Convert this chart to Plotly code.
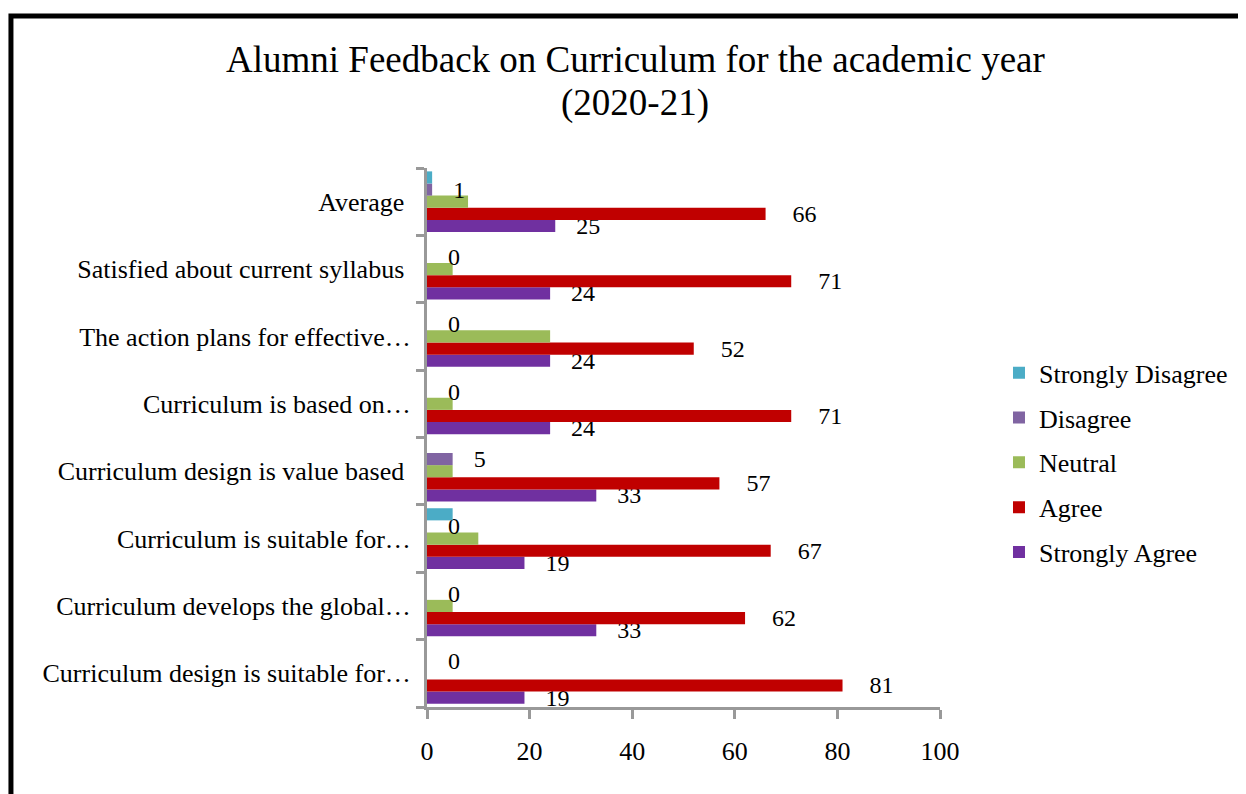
import plotly.graph_objects as go

categories = [
    "Curriculum design is suitable for…",
    "Curriculum develops the global…",
    "Curriculum is suitable for…",
    "Curriculum design is value based\u00a0",
    "Curriculum is based on…",
    "The action plans for effective…",
    "Satisfied about current syllabus\u00a0",
    "Average\u00a0",
]
strongly_agree = [19, 33, 19, 33, 24, 24, 24, 25]
agree = [81, 62, 67, 57, 71, 52, 71, 66]
neutral = [0, 5, 10, 5, 5, 24, 5, 8]
disagree = [0, 0, 0, 5, 0, 0, 0, 1]
strongly_disagree = [0, 0, 5, 0, 0, 0, 0, 1]

FONT = "Liberation Serif, Times New Roman, serif"
AXIS_GRAY = "#999999"
NBSP = "\u00a0"

# name, values, colour, label padding (None = no labels)
series = [
    ("Strongly Agree", strongly_agree, "#7030a0", 3),
    ("Agree", agree, "#c00000", 4),
    ("Neutral", neutral, "#9bbb59", None),
    ("Disagree", disagree, "#8064a2", 3),
    ("Strongly Disagree", strongly_disagree, "#4bacc6", None),
]

fig = go.Figure()
for i, (name, vals, color, pad) in enumerate(series):
    fig.add_trace(go.Bar(
        y=categories,
        x=vals,
        name=name,
        legendgroup=name,
        legendrank=len(series) - i,
        orientation="h",
        marker=dict(color=color, line=dict(width=0)),
        texttemplate=(NBSP * pad + "%{x}") if pad else None,
        textposition="outside" if pad else "none",
        constraintext="none",
        textfont=dict(family=FONT, size=24, color="black"),
        cliponaxis=False,
    ))

# page has an 8px body margin, so the figure is sized to fit inside it
fig.update_layout(
    width=1238,
    height=786,
    barmode="group",
    bargap=0.1,
    bargroupgap=0,
    plot_bgcolor="white",
    paper_bgcolor="white",
    margin=dict(l=419, r=306, t=160, b=87),
    font=dict(family=FONT, size=26, color="black"),
    annotations=[
        dict(text="Alumni Feedback on Curriculum for the academic year",
             xref="paper", yref="paper", x=0.4055, y=1.2004,
             xanchor="center", yanchor="middle", showarrow=False,
             font=dict(family=FONT, size=37)),
        dict(text="(2020-21)",
             xref="paper", yref="paper", x=0.4055, y=1.1206,
             xanchor="center", yanchor="middle", showarrow=False,
             font=dict(family=FONT, size=37)),
    ],
    legend=dict(
        traceorder="grouped",
        x=1.115,
        xanchor="left",
        y=0.453,
        yanchor="middle",
        font=dict(family=FONT, size=26),
        itemwidth=30,
        tracegroupgap=8,
    ),
    xaxis=dict(
        range=[0, 100],
        dtick=20,
        showgrid=False,
        zeroline=False,
        showline=True,
        linecolor=AXIS_GRAY,
        linewidth=3,
        ticks="outside",
        ticklen=9,
        tickwidth=3,
        tickcolor=AXIS_GRAY,
        ticklabelstandoff=10,
        tickfont=dict(family=FONT, size=26),
    ),
    yaxis=dict(
        categoryorder="array",
        categoryarray=categories,
        showgrid=False,
        showline=True,
        linecolor=AXIS_GRAY,
        linewidth=3,
        ticks="outside",
        tickson="boundaries",
        ticklen=8,
        tickwidth=3,
        tickcolor=AXIS_GRAY,
        ticklabelstandoff=8,
        tickfont=dict(family=FONT, size=26),
    ),
    shapes=[dict(
        type="rect",
        xref="paper",
        yref="paper",
        x0=-0.811,
        x1=1.8,
        y0=-0.5,
        y1=1.282,
        line=dict(color="black", width=5),
        fillcolor="rgba(0,0,0,0)",
        layer="below",
    )],
)

fig.write_html("out.html")
